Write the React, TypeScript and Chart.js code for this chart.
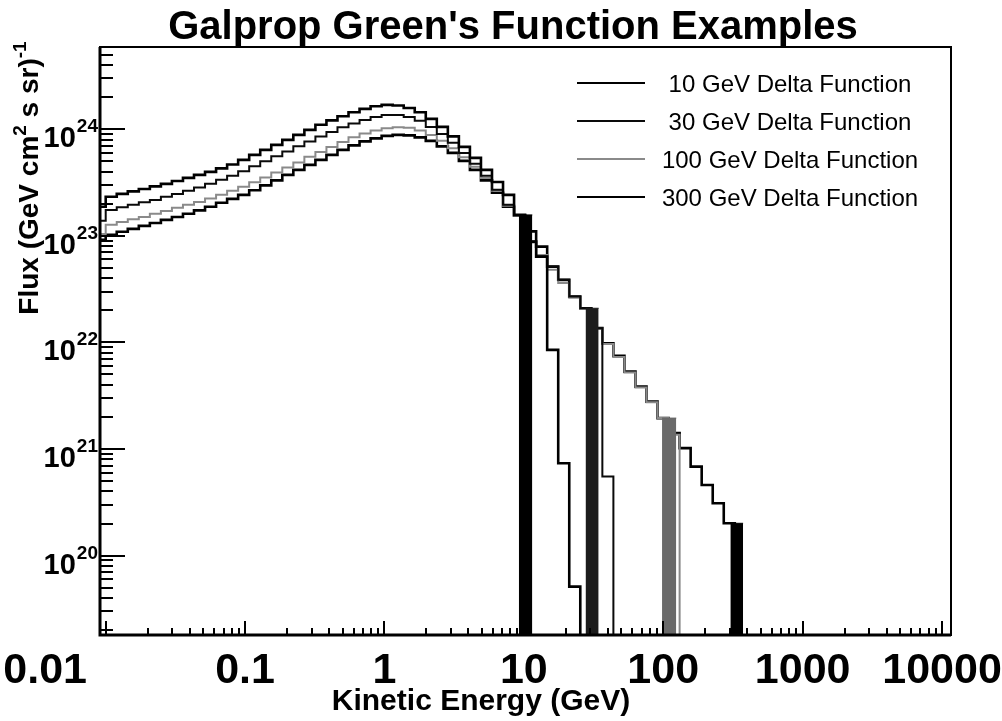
import React, { useEffect, useRef } from 'react';
import { Chart, registerables } from 'chart.js';

Chart.register(...registerables);

// Histogram binning: lower edge of bin k is BIN_START * BIN_RATIO^k, starting at k = FIRST_BIN
const BIN_START = 0.01;
const BIN_RATIO = 1.2;
const FIRST_BIN = -1;

// Flux per bin (GeV cm^2 s sr)^-1 ; 0 = empty bin (histogram ends)
const flux10GeV = [
  1.87e23, 1.87e23, 2.32e23, 2.47e23, 2.61e23, 2.75e23, 2.91e23, 3.07e23, 3.27e23, 3.49e23,
  3.73e23, 3.98e23, 4.29e23, 4.67e23, 5.15e23, 5.74e23, 6.40e23, 7.12e23, 7.94e23, 8.84e23,
  9.85e23, 1.10e24, 1.21e24, 1.32e24, 1.44e24, 1.55e24, 1.64e24, 1.69e24, 1.67e24, 1.58e24,
  1.44e24, 1.25e24, 1.05e24, 8.56e23, 6.82e23, 5.38e23, 4.15e23, 3.20e23, 2.42e23, 1.57e23,
  8.82e22, 6.38e22, 8.50e21, 7.36e20, 5.12e19, 0,
];
const flux30GeV = [
  1.38e23, 1.38e23, 1.75e23, 1.85e23, 1.95e23, 2.06e23, 2.17e23, 2.32e23, 2.47e23, 2.64e23,
  2.84e23, 3.07e23, 3.35e23, 3.65e23, 4.02e23, 4.48e23, 4.99e23, 5.56e23, 6.19e23, 6.90e23,
  7.68e23, 8.56e23, 9.43e23, 1.04e24, 1.13e24, 1.22e24, 1.30e24, 1.36e24, 1.36e24, 1.30e24,
  1.20e24, 1.05e24, 9.03e23, 7.44e23, 5.99e23, 4.73e23, 3.65e23, 2.70e23, 1.95e23, 1.57e23,
  8.82e22, 6.38e22, 5.14e22, 3.86e22, 2.69e22, 2.09e22, 1.36e22, 5.51e20, 0,
];
const flux100GeV = [
  1.04e23, 1.04e23, 1.27e23, 1.35e23, 1.43e23, 1.50e23, 1.61e23, 1.71e23, 1.83e23, 1.95e23,
  2.08e23, 2.24e23, 2.42e23, 2.64e23, 2.88e23, 3.17e23, 3.53e23, 3.93e23, 4.38e23, 4.88e23,
  5.50e23, 6.12e23, 6.82e23, 7.60e23, 8.38e23, 9.13e23, 9.74e23, 1.02e24, 1.04e24, 1.03e24,
  9.74e23, 8.84e23, 7.77e23, 6.61e23, 5.44e23, 4.43e23, 3.49e23, 2.64e23, 1.91e23, 1.54e23,
  8.63e22, 6.62e22, 4.79e22, 3.61e22, 2.62e22, 2.06e22, 1.34e22, 9.68e21, 7.31e21, 5.23e21,
  3.78e21, 2.74e21, 1.95e21, 1.36e21, 0,
];
const flux300GeV = [
  9.15e22, 9.15e22, 1.02e23, 1.09e23, 1.16e23, 1.24e23, 1.32e23, 1.41e23, 1.50e23, 1.61e23,
  1.73e23, 1.87e23, 2.04e23, 2.22e23, 2.42e23, 2.67e23, 2.97e23, 3.31e23, 3.73e23, 4.15e23,
  4.63e23, 5.15e23, 5.74e23, 6.40e23, 7.05e23, 7.68e23, 8.20e23, 8.65e23, 8.84e23, 8.74e23,
  8.38e23, 7.77e23, 6.90e23, 5.99e23, 5.04e23, 4.15e23, 3.31e23, 2.53e23, 1.87e23, 1.54e23,
  1.10e23, 7.92e22, 5.14e22, 3.86e22, 2.69e22, 2.09e22, 1.36e22, 9.83e21, 7.47e21, 5.32e21,
  3.85e21, 2.78e21, 1.95e21, 1.41e21, 1.02e21, 6.84e20, 4.60e20, 3.10e20, 2.01e20, 0,
];

const seriesLabels = [
  '10 GeV Delta Function',
  '30 GeV Delta Function',
  '100 GeV Delta Function',
  '300 GeV Delta Function',
];
const seriesData = [flux10GeV, flux30GeV, flux100GeV, flux300GeV];
const seriesColors = ['#000000', '#0a0a0a', '#8a8a8a', '#000000'];
const seriesWidths = [2.6, 2, 2, 2.6];

// Injection (delta function) bins: energy range and height
const deltaLow = [9.2, 27.7, 98, 303];
const deltaHigh = [11.5, 34.4, 124, 374];
const deltaPeak = [1.57e23, 2.09e22, 1.95e21, 2.01e20];
const deltaColors = ['#000000', '#1c1c1c', '#6a6a6a', '#000000'];

const xTickValues = [0.01, 0.1, 1, 10, 100, 1000, 10000];
const xTickLabels = ['0.01', '0.1', '1', '10', '100', '1000', '10000'];
const yTickValues = [1e20, 1e21, 1e22, 1e23, 1e24];
const yTickExponents = ['20', '21', '22', '23', '24'];

const X_MIN = 0.0091;
const X_MAX = 11600;
const Y_MIN = 1.8e19;
const Y_MAX = 5.9e24;
const FLOOR = 1e15;

const FONT = '"Liberation Sans", Arial, Helvetica, sans-serif';

function stepPoints(values: number[]) {
  const pts: { x: number; y: number }[] = [];
  for (let i = 0; i < values.length; i++) {
    const lo = BIN_START * Math.pow(BIN_RATIO, FIRST_BIN + i);
    pts.push({ x: lo, y: values[i] > 0 ? values[i] : FLOOR });
    if (values[i] <= 0) break;
  }
  return pts;
}

const overlay = {
  id: 'overlay',
  beforeDraw(chart: any) {
    const ctx = chart.ctx;
    ctx.save();
    ctx.fillStyle = '#ffffff';
    ctx.fillRect(0, 0, chart.width, chart.height);
    ctx.restore();
  },
  afterDraw(chart: any) {
    const { ctx, chartArea: a, scales } = chart;
    const xs = scales.x;
    const ys = scales.y;
    ctx.save();
    ctx.strokeStyle = '#000';
    ctx.fillStyle = '#000';
    ctx.lineCap = 'butt';

    // frame
    ctx.lineWidth = 2;
    ctx.strokeRect(a.left, a.top, a.right - a.left, a.bottom - a.top);
    ctx.lineWidth = 3;
    ctx.beginPath();
    ctx.moveTo(a.left, a.top);
    ctx.lineTo(a.left, a.bottom);
    ctx.lineTo(a.right, a.bottom);
    ctx.stroke();

    // x ticks
    ctx.lineWidth = 2;
    ctx.beginPath();
    for (let d = -2; d <= 4; d++) {
      for (let m = 1; m <= 9; m++) {
        const v = m * Math.pow(10, d);
        if (v < xs.min || v > xs.max) continue;
        const px = Math.round(xs.getPixelForValue(v));
        const len = m === 1 ? 14 : 7;
        ctx.moveTo(px, a.bottom);
        ctx.lineTo(px, a.bottom - len);
      }
    }
    // y ticks
    for (let d = 19; d <= 24; d++) {
      for (let m = 1; m <= 9; m++) {
        const v = m * Math.pow(10, d);
        if (v < ys.min || v > ys.max) continue;
        const py = Math.round(ys.getPixelForValue(v));
        const len = m === 1 ? 25 : 13;
        ctx.moveTo(a.left, py);
        ctx.lineTo(a.left + len, py);
      }
    }
    ctx.stroke();

    // x tick labels
    ctx.font = `bold 43px ${FONT}`;
    ctx.textBaseline = 'alphabetic';
    xTickValues.forEach((v, i) => {
      const px = xs.getPixelForValue(v);
      if (i === 0) {
        ctx.textAlign = 'right';
        ctx.fillText(xTickLabels[i], 87, 683);
      } else {
        ctx.textAlign = 'center';
        ctx.fillText(xTickLabels[i], px, 683);
      }
    });

    // y tick labels 10^n
    yTickValues.forEach((v, i) => {
      const py = ys.getPixelForValue(v);
      ctx.font = `bold 19px ${FONT}`;
      const supW = ctx.measureText(yTickExponents[i]).width;
      ctx.textAlign = 'right';
      ctx.fillText(yTickExponents[i], 98, py + 3);
      ctx.font = `bold 29px ${FONT}`;
      ctx.fillText('10', 98 - supW - 1, py + 18);
    });

    // title
    ctx.textAlign = 'center';
    ctx.font = `bold 40px ${FONT}`;
    ctx.fillText("Galprop Green's Function Examples", 513, 39);

    // x axis title
    ctx.font = `bold 30px ${FONT}`;
    ctx.fillText('Kinetic Energy (GeV)', 481, 710);

    // y axis title (rotated)
    ctx.save();
    ctx.translate(38, 178);
    ctx.rotate(-Math.PI / 2);
    const parts = [
      { t: 'Flux (GeV cm', sup: false },
      { t: '2', sup: true },
      { t: ' s sr)', sup: false },
      { t: '-1', sup: true },
    ];
    const bigF = `bold 28px ${FONT}`;
    const supF = `bold 19px ${FONT}`;
    let total = 0;
    const widths = parts.map((p) => {
      ctx.font = p.sup ? supF : bigF;
      const w = ctx.measureText(p.t).width;
      total += w;
      return w;
    });
    let cx = -total / 2;
    ctx.textAlign = 'left';
    parts.forEach((p, i) => {
      ctx.font = p.sup ? supF : bigF;
      ctx.fillText(p.t, cx, p.sup ? -12 : 0);
      cx += widths[i];
    });
    ctx.restore();

    // legend
    const rows = [83, 121, 159, 197];
    ctx.font = `24px ${FONT}`;
    ctx.textAlign = 'center';
    seriesLabels.forEach((lab, i) => {
      const y = rows[i];
      ctx.strokeStyle = seriesColors[i];
      ctx.lineWidth = 2;
      ctx.beginPath();
      ctx.moveTo(577, y);
      ctx.lineTo(645, y);
      ctx.stroke();
      ctx.fillStyle = '#000';
      ctx.fillText(lab, 790, y + 9);
    });

    ctx.restore();
  },
};

export default function App() {
  const ref = useRef<HTMLCanvasElement | null>(null);

  useEffect(() => {
    if (!ref.current) return;
    const bars = deltaLow.map((lo, i) => ({
      label: `delta ${i}`,
      data: [
        { x: lo, y: deltaPeak[i] },
        { x: deltaHigh[i], y: deltaPeak[i] },
      ],
      borderColor: deltaColors[i],
      backgroundColor: deltaColors[i],
      borderWidth: 1,
      fill: 'start',
      pointRadius: 0,
      clip: 1,
    }));
    const steps = seriesData.map((vals, i) => ({
      label: seriesLabels[i],
      data: stepPoints(vals),
      borderColor: seriesColors[i],
      backgroundColor: seriesColors[i],
      borderWidth: seriesWidths[i],
      stepped: 'after',
      fill: false,
      pointRadius: 0,
      clip: 1,
    }));
    const chart = new Chart(ref.current, {
      type: 'line',
      data: { datasets: [...bars, ...steps] as any },
      options: {
        animation: false,
        responsive: false,
        events: [],
        layout: { padding: { left: 100, top: 47, right: 51, bottom: 86 } },
        plugins: {
          legend: { display: false },
          title: { display: false },
          tooltip: { enabled: false },
        },
        scales: {
          x: { type: 'logarithmic', min: X_MIN, max: X_MAX, display: false },
          y: { type: 'logarithmic', min: Y_MIN, max: Y_MAX, display: false },
        },
        elements: { point: { radius: 0 }, line: { tension: 0 } },
      } as any,
      plugins: [overlay],
    });
    return () => chart.destroy();
  }, []);

  return (
    <div style={{ position: 'fixed', left: 0, top: 0, width: 1002, height: 721, background: '#fff' }}>
      <canvas ref={ref} width={1002} height={721} style={{ display: 'block' }} />
    </div>
  );
}
